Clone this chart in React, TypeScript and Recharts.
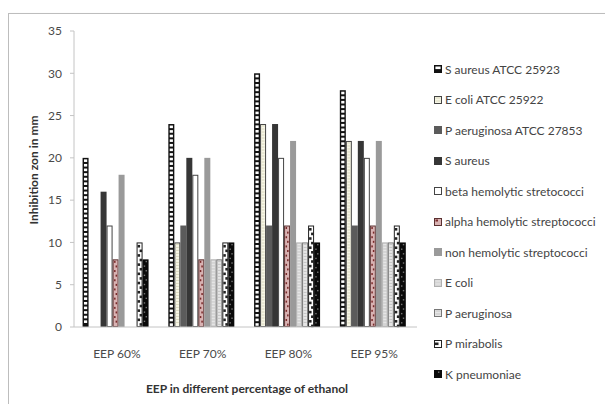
import React from 'react'
import { BarChart, Bar, XAxis, YAxis } from 'recharts'

const groups = ['EEP 60%', 'EEP 70%', 'EEP 80%', 'EEP 95%']
const yTicks = [0, 5, 10, 15, 20, 25, 30, 35]

const sAureusAtcc = [20, 24, 30, 28]
const eColiAtcc = [0, 10, 24, 22]
const pAeruginosaAtcc = [0, 12, 12, 12]
const sAureus = [16, 20, 24, 22]
const betaHemolytic = [12, 18, 20, 20]
const alphaHemolytic = [8, 8, 12, 12]
const nonHemolytic = [18, 20, 22, 22]
const eColi = [0, 8, 10, 10]
const pAeruginosa = [0, 8, 10, 10]
const pMirabolis = [10, 10, 12, 12]
const kPneumoniae = [8, 10, 10, 10]

const series = [
  { key: 'sAureusAtcc', name: 'S aureus ATCC 25923', kind: 'ladder', values: sAureusAtcc },
  { key: 'eColiAtcc', name: 'E coli ATCC 25922', kind: 'cream', values: eColiAtcc },
  { key: 'pAeruginosaAtcc', name: 'P aeruginosa ATCC 27853', kind: 'darkgray', values: pAeruginosaAtcc },
  { key: 'sAureus', name: 'S aureus', kind: 'charcoal', values: sAureus },
  { key: 'beta', name: 'beta hemolytic stretococci', kind: 'white', values: betaHemolytic },
  { key: 'alpha', name: 'alpha hemolytic streptococci', kind: 'pink', values: alphaHemolytic },
  { key: 'nonHemo', name: 'non hemolytic streptococci', kind: 'gray', values: nonHemolytic },
  { key: 'eColi', name: 'E coli', kind: 'lightgray', values: eColi },
  { key: 'pAeruginosa', name: 'P aeruginosa', kind: 'pale', values: pAeruginosa },
  { key: 'pMirabolis', name: 'P mirabolis', kind: 'checker', values: pMirabolis },
  { key: 'kPneumoniae', name: 'K pneumoniae', kind: 'black', values: kPneumoniae },
]

const data = groups.map((g, i) => {
  const row: any = { group: g }
  series.forEach(s => { row[s.key] = s.values[i] })
  return row
})

const FONT = 'Lato, "Open Sans", sans-serif'

// draws one bar (or legend swatch) in the hatch style of its series
const drawBar = (kind: string, x: number, y: number, w: number, h: number) => {
  if (!h || h <= 0) return <g />
  const bits: any[] = []
  const rows = (step: number, fn: (cy: number, i: number) => void) => {
    let i = 0
    for (let cy = y + 1.5; cy + 2 <= y + h - 0.5; cy += step) { fn(cy, i); i++ }
  }
  switch (kind) {
    case 'ladder':
      bits.push(<rect key="b" x={x} y={y} width={w} height={h} fill="#111" />)
      rows(4.6, (cy, i) => bits.push(<rect key={i} x={x + 1.4} y={cy} width={w - 2.8} height={2.6} fill="#fff" />))
      break
    case 'cream':
      bits.push(<rect key="b" x={x + 0.5} y={y + 0.5} width={w - 1} height={h - 1} fill="#f7f6e6" stroke="#444" strokeWidth={1} />)
      rows(3, (cy, i) => bits.push(<rect key={i} x={x + 1.5} y={cy} width={w - 3} height={1} fill="#dcdac0" />))
      break
    case 'darkgray':
      bits.push(<rect key="b" x={x} y={y} width={w} height={h} fill="#5b5b5b" />)
      break
    case 'charcoal':
      bits.push(<rect key="b" x={x} y={y} width={w} height={h} fill="#363636" />)
      break
    case 'white':
      bits.push(<rect key="b" x={x + 0.5} y={y + 0.5} width={w - 1} height={h - 1} fill="#fff" stroke="#444" strokeWidth={1} />)
      break
    case 'pink':
      bits.push(<rect key="b" x={x + 0.5} y={y + 0.5} width={w - 1} height={h - 1} fill="#d9b3b3" stroke="#5a3030" strokeWidth={1} />)
      rows(4.6, (cy, i) => bits.push(<rect key={i} x={x + (i % 2 ? w / 2 : 1.5)} y={cy} width={Math.max(1, w / 2 - 1.5)} height={2} fill="#7a2a2a" />))
      break
    case 'gray':
      bits.push(<rect key="b" x={x} y={y} width={w} height={h} fill="#9a9a9a" />)
      break
    case 'lightgray':
      bits.push(<rect key="b" x={x + 0.5} y={y + 0.5} width={w - 1} height={h - 1} fill="#d4d4d4" stroke="#b0b0b0" strokeWidth={1} />)
      rows(3, (cy, i) => bits.push(<rect key={i} x={x + 1.5} y={cy} width={w - 3} height={1} fill="#e8e8e8" />))
      break
    case 'pale':
      bits.push(<rect key="b" x={x + 0.5} y={y + 0.5} width={w - 1} height={h - 1} fill="#e6e6e6" stroke="#777" strokeWidth={1} />)
      rows(3, (cy, i) => bits.push(<rect key={i} x={x + 1.5} y={cy} width={w - 3} height={1} fill="#c4c4c4" />))
      break
    case 'checker':
      bits.push(<rect key="b" x={x + 0.5} y={y + 0.5} width={w - 1} height={h - 1} fill="#fff" stroke="#222" strokeWidth={1} />)
      rows(4.6, (cy, i) => bits.push(<rect key={i} x={x + (i % 2 ? w / 2 : 1)} y={cy + 1} width={w / 2 - 0.5} height={2.6} fill="#222" />))
      break
    case 'black':
      bits.push(<rect key="b" x={x} y={y} width={w} height={h} fill="#0a0a0a" />)
      rows(4.6, (cy, i) => bits.push(<rect key={i} x={x + (i % 2 ? 1.2 : w / 2)} y={cy} width={1.4} height={1.4} fill="#777" />))
      break
  }
  return <g>{bits}</g>
}

const Legendary = () => (
  <div style={{ position: 'absolute', left: 433, top: 54, fontFamily: FONT, fontSize: 12, color: '#444' }}>
    {series.map(s => (
      <div key={s.key} style={{ display: 'flex', alignItems: 'center', height: 30.5, whiteSpace: 'nowrap' }}>
        <svg width={10} height={10} style={{ marginRight: 2 }}>
          {drawBar(s.kind, 1, 1, 8, 8)}
        </svg>
        <span>{s.name}</span>
      </div>
    ))}
  </div>
)

const App = () => {
  return (
    <div style={{ position: 'relative', width: 613, height: 412, margin: -8, background: '#fff', overflow: 'hidden' }}>
      <div style={{ position: 'absolute', left: 8, top: 13, width: 640, height: 391, border: '1px solid #bdbdbd', boxShadow: '1px 1px 2px #ddd' }} />
      <div style={{ position: 'absolute', left: 0, top: 0 }}>
        <BarChart
          width={613}
          height={412}
          data={data}
          margin={{ top: 31, right: 196, bottom: 15, left: 28 }}
          barCategoryGap="10%"
          barGap={0}
        >
          <XAxis
            dataKey="group"
            height={70}
            tickLine={false}
            tickSize={0}
            tickMargin={22}
            axisLine={{ stroke: '#c4c4c4' }}
            tick={{ fill: '#4a4a4a', fontSize: 12, fontFamily: FONT }}
          />
          <YAxis
            width={46}
            domain={[0, 35]}
            ticks={yTicks}
            interval={0}
            tickSize={4}
            tickMargin={8}
            axisLine={{ stroke: '#c4c4c4' }}
            tickLine={{ stroke: '#c4c4c4' }}
            tick={{ fill: '#4a4a4a', fontSize: 12, fontFamily: FONT }}
          />
          {series.map(s => (
            <Bar
              key={s.key}
              dataKey={s.key}
              name={s.name}
              isAnimationActive={false}
              shape={(p: any) => drawBar(s.kind, p.x, p.y, p.width, p.height)}
            />
          ))}
        </BarChart>
      </div>
      <div style={{
        position: 'absolute', left: 33, top: 170, transform: 'translate(-50%, -50%) rotate(-90deg)',
        fontFamily: FONT, fontSize: 12, fontWeight: 700, color: '#333', whiteSpace: 'nowrap',
      }}>
        Inhibition zon in mm
      </div>
      <div style={{
        position: 'absolute', left: 247, top: 388, transform: 'translate(-50%, -50%)',
        fontFamily: FONT, fontSize: 12, fontWeight: 700, color: '#333', whiteSpace: 'nowrap',
      }}>
        EEP in different percentage of ethanol
      </div>
      <Legendary />
    </div>
  )
}

export default App
